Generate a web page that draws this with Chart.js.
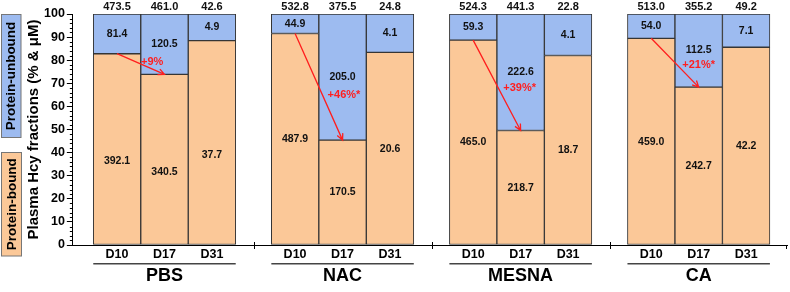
<!DOCTYPE html>
<html>
<head>
<meta charset="utf-8">
<script src="https://cdn.jsdelivr.net/npm/chart.js@4.4.1/dist/chart.umd.min.js"></script>
<style>
  html, body { margin: 0; padding: 0; background: #fff; }
  #wrap { width: 790px; height: 292px; }
</style>
</head>
<body>
<div id="wrap"><canvas id="c" width="790" height="292"></canvas></div>
<script>
// ---- data ----
const groups = ['PBS', 'NAC', 'MESNA', 'CA'];
const days = ['D10', 'D17', 'D31'];
const boundUM   = [392.1, 340.5, 37.7,  487.9, 170.5, 20.6,  465.0, 218.7, 18.7,  459.0, 242.7, 42.2];
const unboundUM = [81.4, 120.5, 4.9,    44.9, 205.0, 4.1,    59.3, 222.6, 4.1,    54.0, 112.5, 7.1];
const totalUM   = [473.5, 461.0, 42.6,  532.8, 375.5, 24.8,  524.3, 441.3, 22.8,  513.0, 355.2, 49.2];
const changeLabels = ['+9%', '+46%*', '+39%*', '+21%*'];
const seriesNames = ['Protein-bound', 'Protein-unbound'];
const yTitle = 'Plasma Hcy fractions (% & \u03bcM)';

// percentages of each day's total
const boundPct = boundUM.map((b, i) => b / (b + unboundUM[i]) * 100);
const unboundPct = boundPct.map(p => 100 - p);

// ---- layout / style ----
const FONT = '"Liberation Sans", Arial, Helvetica, sans-serif';
const ORANGE = '#FBC898';
const BLUE = '#9DBBF0';
const EDGE = '#353535';
const RED = '#FF1E1E';
const GROUP_PITCH = 3.75;
const xPos = i => Math.floor(i / days.length) * GROUP_PITCH + (i % days.length);
const gapPos = g => g * GROUP_PITCH + (days.length - 0.5) + (GROUP_PITCH - days.length) / 2;
const boundLabelShift = [12, 0, 0, 0];
const arrowLabelT = [0.4, 0.58, 0.53, 0.55];

const deco = {
  id: 'deco',
  afterDraw(chart) {
    const { ctx, chartArea: ca } = chart;
    const xs = chart.scales.x, ys = chart.scales.y;
    ctx.save();

    // minor y ticks
    ctx.strokeStyle = '#000';
    ctx.lineWidth = 1;
    for (let v = 0; v <= 100; v += 2) {
      if (v % 10 === 0) continue;
      const py = Math.round(ys.getPixelForValue(v)) + 0.5;
      ctx.beginPath();
      ctx.moveTo(ca.left - 3, py);
      ctx.lineTo(ca.left, py);
      ctx.stroke();
    }

    // bar value labels
    ctx.textAlign = 'center';
    ctx.textBaseline = 'middle';
    ctx.fillStyle = '#111';
    for (let i = 0; i < boundUM.length; i++) {
      const cx = xs.getPixelForValue(xPos(i));
      const g = Math.floor(i / days.length);
      ctx.font = 'bold 11px ' + FONT;
      ctx.fillText(totalUM[i].toFixed(1), cx, ca.top - 7.5);
      ctx.font = 'bold 10.5px ' + FONT;
      ctx.fillText(unboundUM[i].toFixed(1), cx, ys.getPixelForValue((boundPct[i] + 100) / 2));
      ctx.fillText(boundUM[i].toFixed(1), cx, ys.getPixelForValue(boundPct[i] / 2) + boundLabelShift[g]);
    }

    // red arrows D10 -> D17
    for (let g = 0; g < groups.length; g++) {
      const a = g * days.length, b = a + 1;
      const x0 = xs.getPixelForValue(xPos(a)), y0 = ys.getPixelForValue(boundPct[a]);
      const x1 = xs.getPixelForValue(xPos(b)), y1 = ys.getPixelForValue(boundPct[b]);
      ctx.strokeStyle = RED;
      ctx.lineWidth = 1.3;
      ctx.beginPath();
      ctx.moveTo(x0, y0);
      ctx.lineTo(x1, y1);
      const ang = Math.atan2(y1 - y0, x1 - x0);
      const L = 7, spread = 0.45;
      ctx.moveTo(x1 - L * Math.cos(ang - spread), y1 - L * Math.sin(ang - spread));
      ctx.lineTo(x1, y1);
      ctx.lineTo(x1 - L * Math.cos(ang + spread), y1 - L * Math.sin(ang + spread));
      ctx.stroke();
      const t = arrowLabelT[g];
      ctx.fillStyle = RED;
      ctx.font = 'bold 11px ' + FONT;
      ctx.textAlign = 'left';
      ctx.fillText(changeLabels[g], x0 + (x1 - x0) * t + 5, y0 + (y1 - y0) * t);
    }

    // x-axis category labels, group underline and group names
    ctx.fillStyle = '#000';
    ctx.textAlign = 'center';
    ctx.font = 'bold 12.5px ' + FONT;
    for (let i = 0; i < boundUM.length; i++) {
      ctx.fillText(days[i % days.length], xs.getPixelForValue(xPos(i)), ca.bottom + 9.5);
    }
    for (let g = 0; g < groups.length; g++) {
      const first = g * days.length, last = first + days.length - 1;
      const l = xs.getPixelForValue(xPos(first) - 0.5);
      const r = xs.getPixelForValue(xPos(last) + 0.5);
      ctx.strokeStyle = '#444';
      ctx.lineWidth = 1.6;
      ctx.beginPath();
      ctx.moveTo(l, ca.bottom + 18.8);
      ctx.lineTo(r, ca.bottom + 18.8);
      ctx.stroke();
      ctx.font = 'bold 18px ' + FONT;
      ctx.fillText(groups[g], (l + r) / 2, ca.bottom + 31);
    }

    // left series labels (rotated boxes)
    const boxes = [
      { text: seriesNames[1], fill: BLUE, x: 1.5, y: 14.5, w: 19.5, h: 123 },
      { text: seriesNames[0], fill: ORANGE, x: 1.5, y: 152.5, w: 20, h: 103.5 }
    ];
    for (const bx of boxes) {
      ctx.fillStyle = bx.fill;
      ctx.fillRect(bx.x, bx.y, bx.w, bx.h);
      ctx.strokeStyle = '#777';
      ctx.lineWidth = 1;
      ctx.strokeRect(bx.x, bx.y, bx.w, bx.h);
      ctx.save();
      ctx.translate(bx.x + bx.w / 2 + 0.5, bx.y + bx.h / 2);
      ctx.rotate(-Math.PI / 2);
      ctx.fillStyle = '#000';
      ctx.font = 'bold 13.5px ' + FONT;
      ctx.textAlign = 'center';
      ctx.textBaseline = 'middle';
      ctx.fillText(bx.text, 0, 0);
      ctx.restore();
    }

    // small ticks between groups and at the end of the x axis
    ctx.strokeStyle = '#000';
    ctx.lineWidth = 1;
    for (let g = 0; g < groups.length - 1; g++) {
      const px = Math.round(xs.getPixelForValue(gapPos(g))) + 0.5;
      ctx.beginPath();
      ctx.moveTo(px, ca.bottom - 3);
      ctx.lineTo(px, ca.bottom + 4);
      ctx.stroke();
    }
    const ex = Math.round(ca.right) - 0.5;
    ctx.beginPath();
    ctx.moveTo(ex, ca.bottom);
    ctx.lineTo(ex, ca.bottom + 4);
    ctx.stroke();

    ctx.restore();
  }
};

const barStyle = { borderColor: EDGE, borderWidth: 1, borderSkipped: false, barPercentage: 1, categoryPercentage: 1 };

new Chart(document.getElementById('c'), {
  type: 'bar',
  data: {
    datasets: [
      Object.assign({ label: seriesNames[0], data: boundPct.map((v, i) => ({ x: xPos(i), y: v })), backgroundColor: ORANGE }, barStyle),
      Object.assign({ label: seriesNames[1], data: unboundPct.map((v, i) => ({ x: xPos(i), y: v })), backgroundColor: BLUE }, barStyle)
    ]
  },
  options: {
    responsive: false,
    animation: false,
    devicePixelRatio: 1,
    layout: { padding: { left: 26, right: 3, top: 14, bottom: 39 } },
    plugins: { legend: { display: false }, tooltip: { enabled: false } },
    scales: {
      x: {
        type: 'linear',
        stacked: true,
        offset: false,
        min: -0.93,
        max: 14.11,
        // keep ticks only at the group gaps, so bar width follows the bar spacing
        afterBuildTicks: s => { s.ticks = [0, 1, 2].map(g => ({ value: gapPos(g) })); },
        ticks: { display: false },
        grid: { display: false, offset: false },
        border: { display: true, color: '#000', width: 1 }
      },
      y: {
        stacked: true,
        min: 0,
        max: 100,
        ticks: { stepSize: 10, color: '#000', font: { family: FONT, size: 12.5, weight: 'bold' }, padding: 2 },
        grid: { display: true, drawOnChartArea: false, tickLength: 6, color: '#000' },
        border: { display: true, color: '#000', width: 1 },
        title: { display: true, text: yTitle, color: '#000', font: { family: FONT, size: 15, weight: 'bold', lineHeight: 1 }, padding: { top: 0.5, bottom: 0.5 } }
      }
    }
  },
  plugins: [deco]
});
</script>
</body>
</html>
